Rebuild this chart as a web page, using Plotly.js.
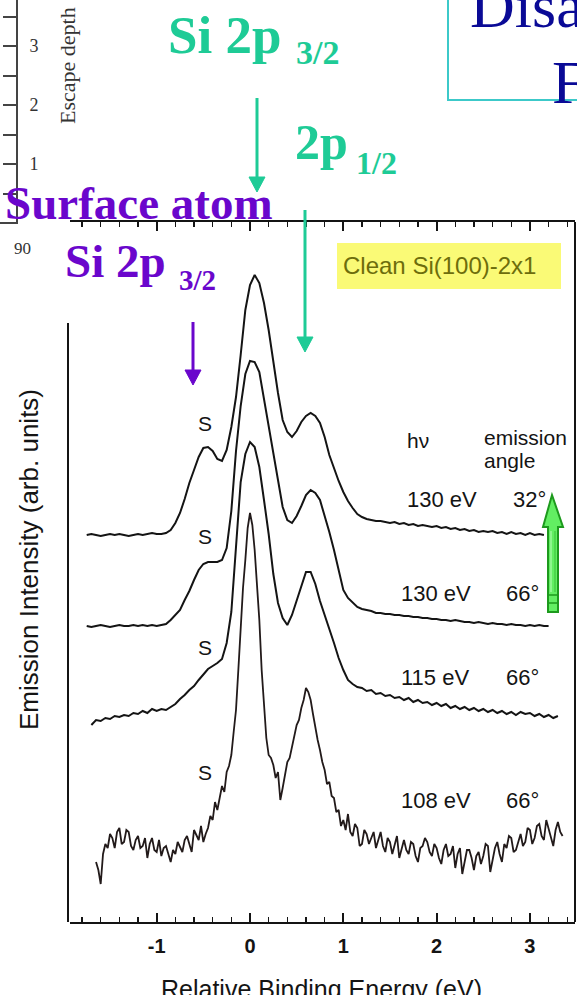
<!DOCTYPE html>
<html>
<head>
<meta charset="utf-8">
<script src="https://cdn.plot.ly/plotly-3.0.1.min.js"></script>
<style>
  html, body { margin: 0; padding: 0; background: #ffffff; overflow: hidden; }
  #chart { width: 577px; height: 995px; }
</style>
</head>
<body>
<div id="chart"></div>
<script>
// Relative binding energy grid (eV), 0.05 eV sampling
const energy = [
  -1.75, -1.70, -1.65, -1.60, -1.55, -1.50, -1.45, -1.40, -1.35, -1.30,
  -1.25, -1.20, -1.15, -1.10, -1.05, -1.00, -0.95, -0.90, -0.85, -0.80,
  -0.75, -0.70, -0.65, -0.60, -0.55, -0.50, -0.45, -0.40, -0.35, -0.30,
  -0.25, -0.20, -0.15, -0.10, -0.05, 0.00, 0.05, 0.10, 0.15, 0.20,
  0.25, 0.30, 0.35, 0.40, 0.45, 0.50, 0.55, 0.60, 0.65, 0.70,
  0.75, 0.80, 0.85, 0.90, 0.95, 1.00, 1.05, 1.10, 1.15, 1.20,
  1.25, 1.30, 1.35, 1.40, 1.45, 1.50, 1.55, 1.60, 1.65, 1.70,
  1.75, 1.80, 1.85, 1.90, 1.95, 2.00, 2.05, 2.10, 2.15, 2.20,
  2.25, 2.30, 2.35, 2.40, 2.45, 2.50, 2.55, 2.60, 2.65, 2.70,
  2.75, 2.80, 2.85, 2.90, 2.95, 3.00, 3.05, 3.10, 3.15, 3.20,
  3.25, 3.30, 3.35
];

// finer 0.025 eV sampling used for the noisy 108 eV spectrum
const energyFine = [
  -1.650, -1.625, -1.600, -1.575, -1.550, -1.525, -1.500, -1.475, -1.450, -1.425,
  -1.400, -1.375, -1.350, -1.325, -1.300, -1.275, -1.250, -1.225, -1.200, -1.175,
  -1.150, -1.125, -1.100, -1.075, -1.050, -1.025, -1.000, -0.975, -0.950, -0.925,
  -0.900, -0.875, -0.850, -0.825, -0.800, -0.775, -0.750, -0.725, -0.700, -0.675,
  -0.650, -0.625, -0.600, -0.575, -0.550, -0.525, -0.500, -0.475, -0.450, -0.425,
  -0.400, -0.375, -0.350, -0.325, -0.300, -0.275, -0.250, -0.225, -0.200, -0.175,
  -0.150, -0.125, -0.100, -0.075, -0.050, -0.025, 0.000, 0.025, 0.050, 0.075,
  0.100, 0.125, 0.150, 0.175, 0.200, 0.225, 0.250, 0.275, 0.300, 0.325,
  0.350, 0.375, 0.400, 0.425, 0.450, 0.475, 0.500, 0.525, 0.550, 0.575,
  0.600, 0.625, 0.650, 0.675, 0.700, 0.725, 0.750, 0.775, 0.800, 0.825,
  0.850, 0.875, 0.900, 0.925, 0.950, 0.975, 1.000, 1.025, 1.050, 1.075,
  1.100, 1.125, 1.150, 1.175, 1.200, 1.225, 1.250, 1.275, 1.300, 1.325,
  1.350, 1.375, 1.400, 1.425, 1.450, 1.475, 1.500, 1.525, 1.550, 1.575,
  1.600, 1.625, 1.650, 1.675, 1.700, 1.725, 1.750, 1.775, 1.800, 1.825,
  1.850, 1.875, 1.900, 1.925, 1.950, 1.975, 2.000, 2.025, 2.050, 2.075,
  2.100, 2.125, 2.150, 2.175, 2.200, 2.225, 2.250, 2.275, 2.300, 2.325,
  2.350, 2.375, 2.400, 2.425, 2.450, 2.475, 2.500, 2.525, 2.550, 2.575,
  2.600, 2.625, 2.650, 2.675, 2.700, 2.725, 2.750, 2.775, 2.800, 2.825,
  2.850, 2.875, 2.900, 2.925, 2.950, 2.975, 3.000, 3.025, 3.050, 3.075,
  3.100, 3.125, 3.150, 3.175, 3.200, 3.225, 3.250, 3.275, 3.300, 3.325,
  3.350
];

// Emission intensity above each spectrum's own baseline (arb. units)
const int130eV32deg = [
  0, 1, 0, -1, 0, 1, 0, 1, 0, -1,
  0, 1, 0, 1, 2, 1, 1, 2, 5, 12,
  22, 36, 52, 65, 78, 87, 88, 84, 76, 74,
  85, 108, 138, 180, 225, 250, 260, 252, 232, 205,
  172, 142, 115, 103, 98, 104, 113, 119, 122, 119,
  112, 98, 80, 66, 54, 43, 34, 27, 21, 18,
  16, 15, 14, 14, 13, 12, 13, 11, 12, 10,
  11, 9, 10, 9, 8, 9, 7, 8, 6, 7,
  5, 6, 4, 5, 3, 4, 3, 4, 2, 3,
  1, 3, 1, 2, 0, 2, 0, 1, 0, null,
  null, null, null
];

const int130eV66deg = [
  0, -1, 0, 1, 0, -1, 0, 1, 0, 0,
  1, 0, 1, 0, 1, 0, 1, 2, 6, 11,
  16, 26, 35, 46, 56, 62, 64, 64, 64, 66,
  78, 115, 175, 220, 252, 265, 264, 254, 228, 198,
  172, 146, 119, 106, 103, 110, 120, 131, 136, 133,
  126, 111, 94, 76, 57, 36, 28, 23, 19, 17,
  16, 15, 13, 13, 12, 12, 11, 11, 10, 10,
  9, 9, 8, 8, 7, 7, 6, 6, 5, 6,
  5, 4, 4, 3, 4, 3, 2, 3, 2, 2,
  1, 2, 1, 1, 0, 1, 0, 1, 0, 0,
  null, null, null
];

const int115eV66deg = [
  null, -3, 2, 1, 4, 3, 6, 5, 7, 6,
  9, 8, 11, 9, 13, 11, 13, 12, 15, 18,
  23, 27, 32, 36, 42, 47, 53, 56, 59, 63,
  79, 110, 175, 240, 268, 280, 275, 255, 222, 188,
  148, 119, 104, 97, 107, 122, 137, 150, 150, 138,
  121, 106, 93, 79, 64, 52, 42, 38, 35, 34,
  31, 32, 28, 29, 26, 27, 24, 25, 22, 24,
  20, 22, 19, 20, 17, 19, 16, 18, 14, 16,
  13, 15, 12, 14, 11, 13, 10, 12, 9, 11,
  8, 10, 7, 10, 8, 9, 6, 8, 5, 7,
  4, 6, null
];

// 108 eV spectrum, on the fine grid
const int108eV66deg = [
  -12, -20, -34, -4, 6, 2, 16, 12, 2, 18,
  22, 6, 8, 20, 18, 4, 0, 10, 14, 2,
  4, 12, -8, 6, 12, 0, -2, 10, -6, 2,
  4, -4, -12, 0, -4, 8, 2, -2, 10, 14,
  6, -2, 20, 14, 10, 24, 8, 16, 22, 34,
  30, 48, 40, 52, 64, 58, 78, 84, 95, 118,
  140, 180, 225, 262, 290, 322, 337, 325, 300, 268,
  230, 180, 140, 112, 95, 92, 85, 72, 78, 50,
  62, 76, 88, 92, 102, 114, 125, 130, 142, 150,
  162, 158, 150, 136, 122, 110, 100, 88, 80, 66,
  68, 54, 52, 38, 40, 24, 30, 20, 36, 18,
  14, 26, 22, 4, 6, 20, 16, 6, 12, 18,
  2, 10, 18, 4, -2, 12, 8, -4, 4, 14,
  -8, 2, 10, 0, -4, 8, 6, -6, -12, 2,
  4, 12, 8, -2, -6, 6, 2, -8, -14, 0,
  6, -6, -4, 4, -18, -4, 2, -24, -10, 0,
  0, -8, -20, -6, -2, -14, -6, 6, 4, -22,
  -10, 2, 8, -4, -12, 6, 2, 14, 12, -2,
  0, 8, 16, 4, 8, 22, 20, 6, 12, 24,
  26, 14, 10, 30, 22, 12, 4, 20, 28, 18,
  14
];

const spectra = [int130eV32deg, int130eV66deg, int115eV66deg, int108eV66deg];
const spectrumEnergies = [energy, energy, energy, energyFine];
// vertical stacking of the spectra (arb. units)
const spectrumOffsets = [387, 296, 200, 72];
const photonEnergies = ['130 eV', '130 eV', '115 eV', '108 eV'];
const emissionAngles = ['32°', '66°', '66°', '66°'];
const surfaceLabel = 'S';

const energyTicks = [-1, 0, 1, 2, 3];
const energyTickText = ['-1', '0', '1', '2', '3'];

// small escape-depth scale in the upper left corner
const escapeTicks = [0, 0.5, 1, 1.5, 2, 2.5, 3, 3.5];
const escapeTickText = ['0', '', '1', '', '2', '', '3', ''];
const escapeAngleLabel = '90';

// ---- page geometry helpers (pixel -> paper fraction) ----
const W = 577, H = 995;
const fx = x => x / W;
const fy = y => 1 - y / H;

const TEAL = '#1ecb96';
const PURPLE = '#6a06cc';
const INK = '#141414';
const SERIF = 'Liberation Serif, Times New Roman, serif';
const SANS = 'Liberation Sans, Arial, Helvetica, sans-serif';

const traces = spectra.map((vals, i) => ({
  type: 'scatter',
  mode: 'lines',
  x: spectrumEnergies[i],
  y: vals.map(v => (v === null ? null : v + spectrumOffsets[i])),
  xaxis: 'x',
  yaxis: 'y',
  line: { color: i === 3 ? '#221a1a' : INK, width: i === 3 ? 1.8 : 2 },
  connectgaps: false,
  hoverinfo: 'skip',
  showlegend: false
}));

// empty series that puts the escape-depth axis on the page
traces.push({
  type: 'scatter', mode: 'lines', x: [], y: [],
  xaxis: 'x2', yaxis: 'y2', hoverinfo: 'skip', showlegend: false
});

function note(text, x, y, opts) {
  return Object.assign({
    text: text, x: fx(x), y: fy(y), xref: 'paper', yref: 'paper',
    showarrow: false, xanchor: 'left', yanchor: 'middle'
  }, opts || {});
}

const sansFont = (size, color) => ({ family: SANS, size: size, color: color || INK });
const serifBold = (size, color) => ({ family: SERIF, size: size, color: color, weight: 'bold' });

const annotations = [
  // escape depth scale annotations
  note('Escape depth', 68, 66, { xanchor: 'center', textangle: -90,
    font: { family: SERIF, size: 22, color: '#333333' } }),
  note(escapeAngleLabel, 22, 248, { xanchor: 'center',
    font: { family: SERIF, size: 17, color: '#333333' } }),

  // slide title fragment
  note('Disa', 468, 6, { font: { family: SERIF, size: 62, color: '#0a0a96' } }),
  note('F', 550, 82, { font: { family: SERIF, size: 62, color: '#0a0a96' } }),

  // bulk spin-orbit doublet
  note('Si 2p', 166, 35, { font: serifBold(53, TEAL) }),
  note('3/2', 294, 53, { font: serifBold(34, TEAL) }),
  note('2p', 293, 142, { font: serifBold(50, TEAL) }),
  note('1/2', 354, 163, { font: serifBold(32, TEAL) }),

  // surface component
  note('Surface atom', 3, 203, { font: serifBold(47, PURPLE) }),
  note('Si 2p', 63, 261, { font: serifBold(47, PURPLE) }),
  note('3/2', 177, 280, { font: serifBold(29, PURPLE) }),

  // sample label
  note('Clean Si(100)-2x1', 341, 266, { font: sansFont(24, '#6d6d0c') }),

  // column headers
  note('hν', 405, 440, { font: sansFont(21) }),
  note('emission', 482, 437, { font: sansFont(21) }),
  note('angle', 482, 460, { font: sansFont(21) }),

  // axis titles
  note('Emission Intensity (arb. units)', 29, 560, { xanchor: 'center', textangle: -90,
    font: sansFont(26) }),
  note('Relative Binding Energy (eV)', 321, 989, { xanchor: 'center', font: sansFont(25) })
];

// per-spectrum labels
const labelRows = [500, 593, 677, 800];
const energyLabelX = [405, 399, 399, 399];
const angleLabelX = [511, 504, 504, 504];
const sRows = [424, 536, 647, 772];
labelRows.forEach((yy, i) => {
  annotations.push(note(photonEnergies[i], energyLabelX[i], yy, { font: sansFont(22) }));
  annotations.push(note(emissionAngles[i], angleLabelX[i], yy, { font: sansFont(22) }));
  annotations.push(note(surfaceLabel, 205, sRows[i], { xanchor: 'center', font: sansFont(21) }));
});

function seg(x0, y0, x1, y1, color, width) {
  return { type: 'line', xref: 'paper', yref: 'paper',
    x0: fx(x0), y0: fy(y0), x1: fx(x1), y1: fy(y1),
    line: { color: color, width: width } };
}
function poly(points, fill, color, width) {
  const d = points.map((p, k) => (k ? 'L ' : 'M ') + fx(p[0]) + ',' + fy(p[1])).join(' ') + ' Z';
  return { type: 'path', xref: 'paper', yref: 'paper', path: d,
    fillcolor: fill, line: { color: color, width: width } };
}
function downArrow(x, yTop, yTip, color) {
  return [
    seg(x, yTop, x, yTip - 12, color, 3),
    poly([[x - 8, yTip - 15], [x + 8, yTip - 15], [x, yTip]], color, color, 1)
  ];
}

const shapes = [
  // frame pieces of the spectrum panel
  seg(68, 323, 68, 922, INK, 2),
  seg(575, 222, 575, 922, INK, 2),
  // baseline stub of the escape-depth scale
  seg(0, 223, 18, 223, '#444444', 2),
  // title box edge
  { type: 'rect', xref: 'paper', yref: 'paper',
    x0: fx(448), y0: fy(100), x1: fx(600), y1: fy(-10),
    line: { color: '#3cc9c9', width: 2 }, fillcolor: 'rgba(0,0,0,0)' },
  // sample label background
  { type: 'rect', xref: 'paper', yref: 'paper', layer: 'below',
    x0: fx(337), y0: fy(289), x1: fx(561), y1: fy(243),
    line: { width: 0 }, fillcolor: '#fafa76' },
  ...downArrow(257, 98, 192, TEAL),
  ...downArrow(305, 210, 352, TEAL),
  ...downArrow(193, 322, 385, PURPLE),
  // green arrow: spectra ordered by increasing surface sensitivity
  poly([[552, 495], [563, 527], [558, 527], [558, 612], [548, 612], [548, 527], [543, 527]],
    '#62ee62', '#1d9a1d', 2),
  seg(548, 595, 558, 595, '#1d9a1d', 1.5),
  seg(548, 603, 558, 603, '#1d9a1d', 1.5),
  seg(551, 531, 551, 592, '#b8ffb8', 1),
  seg(555, 531, 555, 592, '#38c038', 1)
];

const layout = {
  width: W, height: H,
  margin: { l: 0, r: 0, t: 0, b: 0 },
  paper_bgcolor: '#ffffff',
  plot_bgcolor: 'rgba(0,0,0,0)',
  showlegend: false,
  xaxis: {
    domain: [fx(70), fx(575)],
    range: [-1.929, 3.483],
    anchor: 'y',
    showline: true, linecolor: INK, linewidth: 2,
    mirror: 'allticks',
    ticks: 'inside', ticklen: 9, tickwidth: 2, tickcolor: INK,
    tickvals: energyTicks, ticktext: energyTickText,
    tickfont: { family: SANS, size: 20, color: INK, weight: 'bold' },
    ticklabelstandoff: 5,
    minor: { dtick: 0.2, tick0: 0, ticks: 'inside', ticklen: 5, tickwidth: 1.5, tickcolor: INK, showgrid: false },
    showgrid: false, zeroline: false
  },
  yaxis: {
    domain: [fy(922), fy(222)],
    range: [0, 700],
    anchor: 'x',
    visible: false
  },
  xaxis2: {
    domain: [fx(18), fx(200)],
    range: [0, 1],
    anchor: 'y2',
    showline: false, showticklabels: false, ticks: '', showgrid: false, zeroline: false
  },
  yaxis2: {
    domain: [fy(223), 1],
    range: [0, 223 / 59],
    anchor: 'x2',
    side: 'left',
    showline: true, linecolor: '#444444', linewidth: 2,
    ticks: 'outside', ticklen: 13, tickwidth: 2, tickcolor: '#444444',
    tickvals: escapeTicks, ticktext: escapeTickText,
    ticklabelposition: 'inside',
    ticklabelstandoff: 12,
    tickfont: { family: SERIF, size: 18, color: '#333333' },
    showgrid: false, zeroline: false
  },
  annotations: annotations,
  shapes: shapes
};

Plotly.newPlot('chart', traces, layout, { staticPlot: true, displayModeBar: false });
</script>
</body>
</html>
